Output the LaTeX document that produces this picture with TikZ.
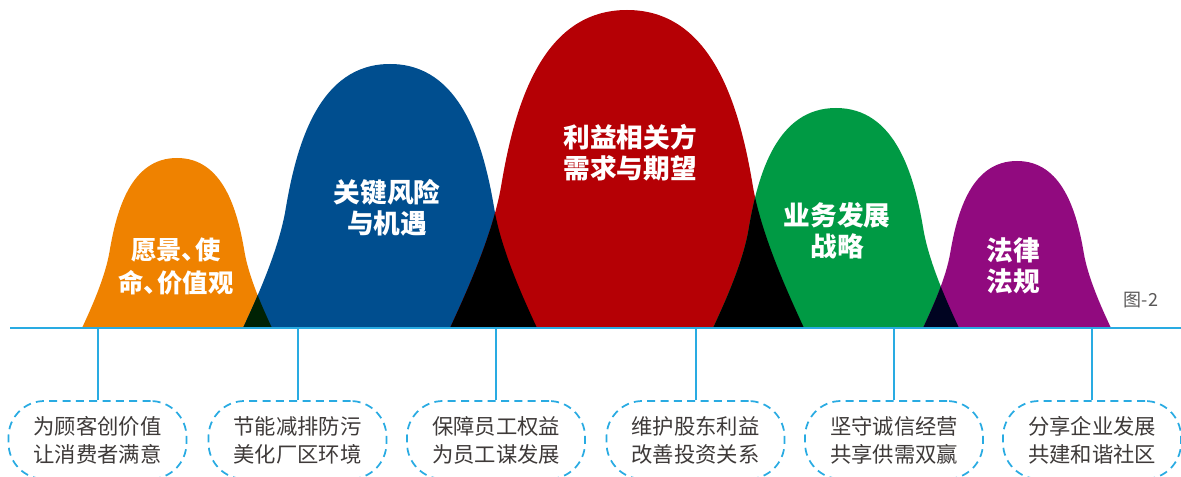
\documentclass[tikz,border=0pt]{standalone}
\usepackage{fontspec}
\newfontfamily\cjk{Noto Sans CJK SC}
\definecolor{cOrange}{HTML}{EF8200}
\definecolor{cBlue}{HTML}{004E8F}
\definecolor{cRed}{HTML}{B50005}
\definecolor{cGreen}{HTML}{009A44}
\definecolor{cPurple}{HTML}{910A7F}
\definecolor{ovOB}{HTML}{002204}
\definecolor{ovBlack}{HTML}{000000}
\definecolor{ovGP}{HTML}{000421}
\definecolor{lineBlue}{HTML}{29ABE2}
\definecolor{txtGray}{HTML}{3E3A39}
\definecolor{figGray}{HTML}{595757}
\newcommand\bellfill[4]{\fill[#1,shift={(#2,328)},xscale=#3,yscale=-#4] (0,0) .. controls (0.1,0.12) and (0.245,0.30) .. (0.29,0.45) .. controls (0.365,0.70) and (0.52,1) .. (1,1) .. controls (1.48,1) and (1.635,0.70) .. (1.71,0.45) .. controls (1.755,0.30) and (1.9,0.12) .. (2,0) -- cycle;}
\newcommand\bellclip[3]{\clip[shift={(#1,328)},xscale=#2,yscale=-#3] (0,0) .. controls (0.1,0.12) and (0.245,0.30) .. (0.29,0.45) .. controls (0.365,0.70) and (0.52,1) .. (1,1) .. controls (1.48,1) and (1.635,0.70) .. (1.71,0.45) .. controls (1.755,0.30) and (1.9,0.12) .. (2,0) -- cycle;}
\newcommand\tightdun{、\kern-0.45em}
\tikzset{
  blabel/.style={text=white, align=center, inner sep=0pt},
  obox/.style={draw=lineBlue, line width=1.3pt, dash pattern=on 6pt off 4pt, rounded corners=27pt, minimum width=133.5pt, minimum height=58.5pt, inner sep=0pt, align=center, text=txtGray, font=\cjk\fontsize{16}{21}\selectfont},
  conn/.style={draw=lineBlue, line width=1.5pt},
  baseln/.style={draw=lineBlue, line width=1.5pt}
}
\begin{document}
\begin{tikzpicture}[x=0.75pt,y=-0.75pt]
\useasboundingbox (0,0) rectangle (1181,477);
% bells
\bellfill{cOrange}{82}{95}{170}
\bellfill{cBlue}{243}{147}{264}
\bellfill{cRed}{450}{177}{318}
\bellfill{cGreen}{713}{123}{220}
\bellfill{cPurple}{923}{94}{167}
% overlaps
\begin{scope}\bellclip{82}{95}{170}\bellfill{ovOB}{243}{147}{264}\end{scope}
\begin{scope}\bellclip{243}{147}{264}\bellfill{ovBlack}{450}{177}{318}\end{scope}
\begin{scope}\bellclip{450}{177}{318}\bellfill{ovBlack}{713}{123}{220}\end{scope}
\begin{scope}\bellclip{713}{123}{220}\bellfill{ovGP}{923}{94}{167}\end{scope}
% bell labels
\node[blabel, font=\cjk\bfseries\fontsize{19}{24.5}\selectfont] (lo) at (176,266.5) {愿景\tightdun 使\\命\tightdun 价值观};
\node[blabel, font=\cjk\bfseries\fontsize{20}{23.5}\selectfont] (lb) at (387,207.5) {关键风险\\与机遇};
\node[blabel, font=\cjk\bfseries\fontsize{20}{23.5}\selectfont] (lr) at (630,152.5) {利益相关方\\需求与期望};
\node[blabel, font=\cjk\bfseries\fontsize{20}{23.5}\selectfont] (lg) at (837,231) {业务发展\\战略};
\node[blabel, font=\cjk\bfseries\fontsize{20}{23.5}\selectfont] (lp) at (1013,266) {法律\\法规};
\node[font=\cjk\fontsize{13.5}{16}\selectfont, text=figGray, inner sep=0pt] (fig) at (1141,300) {图-2};
% baseline
\coordinate (L0) at (10,328);
\coordinate (L1) at (1181,328);
\draw[baseln] (L0) -- (L1);
% boxes
\node[obox] (b1) at (97.5,440) {为顾客创价值\\让消费者满意};
\node[obox] (b2) at (297.5,440) {节能减排防污\\美化厂区环境};
\node[obox] (b3) at (496,440) {保障员工权益\\为员工谋发展};
\node[obox] (b4) at (695.5,440) {维护股东利益\\改善投资关系};
\node[obox] (b5) at (894,440) {坚守诚信经营\\共享供需双赢};
\node[obox] (b6) at (1092,440) {分享企业发展\\共建和谐社区};
% connectors
\coordinate (t1) at (97.5,328);
\coordinate (t2) at (297.5,328);
\coordinate (t3) at (496,328);
\coordinate (t4) at (695.5,328);
\coordinate (t5) at (894,328);
\coordinate (t6) at (1092,328);
\draw[conn] (t1) -- (b1.north);
\draw[conn] (t2) -- (b2.north);
\draw[conn] (t3) -- (b3.north);
\draw[conn] (t4) -- (b4.north);
\draw[conn] (t5) -- (b5.north);
\draw[conn] (t6) -- (b6.north);
\end{tikzpicture}
\end{document}
